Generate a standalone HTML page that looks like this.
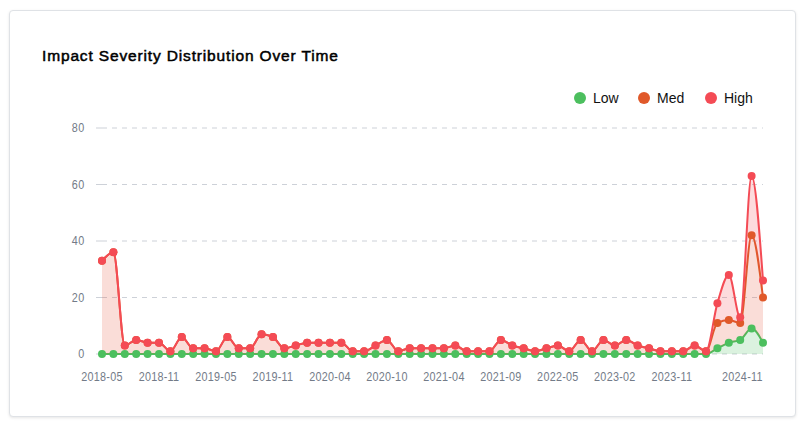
<!DOCTYPE html>
<html><head><meta charset="utf-8"><style>
html,body{margin:0;padding:0;background:#fff;width:809px;height:427px;overflow:hidden;}
body{position:relative;font-family:"Liberation Sans",sans-serif;}
.card{position:absolute;left:9px;top:10px;width:785px;height:405px;border:1px solid #dfe2e6;border-radius:4px;box-shadow:0 1px 3px rgba(0,0,0,0.10);background:#fff;}
.title{position:absolute;left:42px;top:47px;font-size:15.5px;letter-spacing:0.85px;font-weight:normal;-webkit-text-stroke:0.5px #000;color:#000;white-space:nowrap;}
.legend{position:absolute;top:89px;left:0;height:18px;font-size:14px;color:#111;white-space:nowrap;}
.legend span{position:absolute;top:0;line-height:18px;}
.dot{position:absolute;width:12px;height:12px;border-radius:50%;top:3px;}
svg{position:absolute;left:0;top:0;}
.yl{font-size:12px;letter-spacing:0.6px;fill:#737b88;text-anchor:end;}
.xl{font-size:12px;letter-spacing:0.3px;fill:#737b88;text-anchor:middle;}
</style></head><body>
<div class="card"></div>
<div class="title">Impact Severity Distribution Over Time</div>
<div class="legend">
<div class="dot" style="left:574px;background:#4cbf5e"></div><span style="left:593px">Low</span>
<div class="dot" style="left:638px;background:#e0592a"></div><span style="left:657px">Med</span>
<div class="dot" style="left:705px;background:#f44b55"></div><span style="left:724px">High</span>
</div>
<svg width="809" height="427" viewBox="0 0 809 427">
<line x1="96" y1="354" x2="102" y2="354" stroke="#cdd1d8" stroke-width="1"/>
<line x1="102" y1="354" x2="763" y2="354" stroke="#cdd1d8" stroke-width="1" stroke-dasharray="5 5"/>
<line x1="96" y1="297.5" x2="102" y2="297.5" stroke="#cdd1d8" stroke-width="1"/>
<line x1="102" y1="297.5" x2="763" y2="297.5" stroke="#cdd1d8" stroke-width="1" stroke-dasharray="5 5"/>
<line x1="96" y1="241" x2="102" y2="241" stroke="#cdd1d8" stroke-width="1"/>
<line x1="102" y1="241" x2="763" y2="241" stroke="#cdd1d8" stroke-width="1" stroke-dasharray="5 5"/>
<line x1="96" y1="184.5" x2="102" y2="184.5" stroke="#cdd1d8" stroke-width="1"/>
<line x1="102" y1="184.5" x2="763" y2="184.5" stroke="#cdd1d8" stroke-width="1" stroke-dasharray="5 5"/>
<line x1="96" y1="128" x2="102" y2="128" stroke="#cdd1d8" stroke-width="1"/>
<line x1="102" y1="128" x2="763" y2="128" stroke="#cdd1d8" stroke-width="1" stroke-dasharray="5 5"/>
<text transform="translate(84.8,358.2) scale(0.9,1)" class="yl">0</text>
<text transform="translate(84.8,301.7) scale(0.9,1)" class="yl">20</text>
<text transform="translate(84.8,245.2) scale(0.9,1)" class="yl">40</text>
<text transform="translate(84.8,188.7) scale(0.9,1)" class="yl">60</text>
<text transform="translate(84.8,132.2) scale(0.9,1)" class="yl">80</text>
<text transform="translate(102,381) scale(0.9,1)" class="xl">2018-05</text>
<text transform="translate(158.98,381) scale(0.9,1)" class="xl">2018-11</text>
<text transform="translate(215.97,381) scale(0.9,1)" class="xl">2019-05</text>
<text transform="translate(272.95,381) scale(0.9,1)" class="xl">2019-11</text>
<text transform="translate(329.93,381) scale(0.9,1)" class="xl">2020-04</text>
<text transform="translate(386.91,381) scale(0.9,1)" class="xl">2020-10</text>
<text transform="translate(443.9,381) scale(0.9,1)" class="xl">2021-04</text>
<text transform="translate(500.88,381) scale(0.9,1)" class="xl">2021-09</text>
<text transform="translate(557.86,381) scale(0.9,1)" class="xl">2022-05</text>
<text transform="translate(614.84,381) scale(0.9,1)" class="xl">2023-02</text>
<text transform="translate(671.83,381) scale(0.9,1)" class="xl">2023-11</text>
<text transform="translate(742.4,381) scale(0.9,1)" class="xl">2024-11</text>
<path d="M102,354C105.8,354 109.6,354 113.4,354C117.2,354 120.99,354 124.79,354C128.59,354 132.39,354 136.19,354C139.99,354 143.79,354 147.59,354C151.39,354 155.18,354 158.98,354C162.78,354 166.58,354 170.38,354C174.18,354 177.98,354 181.78,354C185.57,354 189.37,354 193.17,354C196.97,354 200.77,354 204.57,354C208.37,354 212.17,354 215.97,354C219.76,354 223.56,354 227.36,354C231.16,354 234.96,354 238.76,354C242.56,354 246.36,354 250.16,354C253.95,354 257.75,354 261.55,354C265.35,354 269.15,354 272.95,354C276.75,354 280.55,354 284.34,354C288.14,354 291.94,354 295.74,354C299.54,354 303.34,354 307.14,354C310.94,354 314.74,354 318.53,354C322.33,354 326.13,354 329.93,354C333.73,354 337.53,354 341.33,354C345.13,354 348.93,354 352.72,354C356.52,354 360.32,354 364.12,354C367.92,354 371.72,354 375.52,354C379.32,354 383.11,354 386.91,354C390.71,354 394.51,354 398.31,354C402.11,354 405.91,354 409.71,354C413.51,354 417.3,354 421.1,354C424.9,354 428.7,354 432.5,354C436.3,354 440.1,354 443.9,354C447.7,354 451.49,354 455.29,354C459.09,354 462.89,354 466.69,354C470.49,354 474.29,354 478.09,354C481.89,354 485.68,354 489.48,354C493.28,354 497.08,354 500.88,354C504.68,354 508.48,354 512.28,354C516.07,354 519.87,354 523.67,354C527.47,354 531.27,354 535.07,354C538.87,354 542.67,354 546.47,354C550.26,354 554.06,354 557.86,354C561.66,354 565.46,354 569.26,354C573.06,354 576.86,354 580.66,354C584.45,354 588.25,354 592.05,354C595.85,354 599.65,354 603.45,354C607.25,354 611.05,354 614.84,354C618.64,354 622.44,354 626.24,354C630.04,354 633.84,354 637.64,354C641.44,354 645.24,354 649.03,354C652.83,354 656.63,354 660.43,354C664.23,354 668.03,354 671.83,354C675.63,354 679.43,354 683.22,354C687.02,354 690.82,354 694.62,354C698.42,354 702.22,354 706.02,354C709.82,354 713.61,350.23 717.41,348.35C721.21,346.47 725.01,344.11 728.81,342.7C732.61,341.29 736.41,341.76 740.21,339.88C744.01,337.99 747.8,328.57 751.6,328.57C755.4,328.57 759.2,335.64 763,342.7L763,354C759.2,354 755.4,354 751.6,354C747.8,354 744.01,354 740.21,354C736.41,354 732.61,354 728.81,354C725.01,354 721.21,354 717.41,354C713.61,354 709.82,354 706.02,354C702.22,354 698.42,354 694.62,354C690.82,354 687.02,354 683.22,354C679.43,354 675.63,354 671.83,354C668.03,354 664.23,354 660.43,354C656.63,354 652.83,354 649.03,354C645.24,354 641.44,354 637.64,354C633.84,354 630.04,354 626.24,354C622.44,354 618.64,354 614.84,354C611.05,354 607.25,354 603.45,354C599.65,354 595.85,354 592.05,354C588.25,354 584.45,354 580.66,354C576.86,354 573.06,354 569.26,354C565.46,354 561.66,354 557.86,354C554.06,354 550.26,354 546.47,354C542.67,354 538.87,354 535.07,354C531.27,354 527.47,354 523.67,354C519.87,354 516.07,354 512.28,354C508.48,354 504.68,354 500.88,354C497.08,354 493.28,354 489.48,354C485.68,354 481.89,354 478.09,354C474.29,354 470.49,354 466.69,354C462.89,354 459.09,354 455.29,354C451.49,354 447.7,354 443.9,354C440.1,354 436.3,354 432.5,354C428.7,354 424.9,354 421.1,354C417.3,354 413.51,354 409.71,354C405.91,354 402.11,354 398.31,354C394.51,354 390.71,354 386.91,354C383.11,354 379.32,354 375.52,354C371.72,354 367.92,354 364.12,354C360.32,354 356.52,354 352.72,354C348.93,354 345.13,354 341.33,354C337.53,354 333.73,354 329.93,354C326.13,354 322.33,354 318.53,354C314.74,354 310.94,354 307.14,354C303.34,354 299.54,354 295.74,354C291.94,354 288.14,354 284.34,354C280.55,354 276.75,354 272.95,354C269.15,354 265.35,354 261.55,354C257.75,354 253.95,354 250.16,354C246.36,354 242.56,354 238.76,354C234.96,354 231.16,354 227.36,354C223.56,354 219.76,354 215.97,354C212.17,354 208.37,354 204.57,354C200.77,354 196.97,354 193.17,354C189.37,354 185.57,354 181.78,354C177.98,354 174.18,354 170.38,354C166.58,354 162.78,354 158.98,354C155.18,354 151.39,354 147.59,354C143.79,354 139.99,354 136.19,354C132.39,354 128.59,354 124.79,354C120.99,354 117.2,354 113.4,354C109.6,354 105.8,354 102,354Z" fill="#4cbf5e" fill-opacity="0.2" stroke="none"/>
<path d="M102,354C105.8,354 109.6,354 113.4,354C117.2,354 120.99,354 124.79,354C128.59,354 132.39,354 136.19,354C139.99,354 143.79,354 147.59,354C151.39,354 155.18,354 158.98,354C162.78,354 166.58,354 170.38,354C174.18,354 177.98,354 181.78,354C185.57,354 189.37,354 193.17,354C196.97,354 200.77,354 204.57,354C208.37,354 212.17,354 215.97,354C219.76,354 223.56,354 227.36,354C231.16,354 234.96,354 238.76,354C242.56,354 246.36,354 250.16,354C253.95,354 257.75,354 261.55,354C265.35,354 269.15,354 272.95,354C276.75,354 280.55,354 284.34,354C288.14,354 291.94,354 295.74,354C299.54,354 303.34,354 307.14,354C310.94,354 314.74,354 318.53,354C322.33,354 326.13,354 329.93,354C333.73,354 337.53,354 341.33,354C345.13,354 348.93,354 352.72,354C356.52,354 360.32,354 364.12,354C367.92,354 371.72,354 375.52,354C379.32,354 383.11,354 386.91,354C390.71,354 394.51,354 398.31,354C402.11,354 405.91,354 409.71,354C413.51,354 417.3,354 421.1,354C424.9,354 428.7,354 432.5,354C436.3,354 440.1,354 443.9,354C447.7,354 451.49,354 455.29,354C459.09,354 462.89,354 466.69,354C470.49,354 474.29,354 478.09,354C481.89,354 485.68,354 489.48,354C493.28,354 497.08,354 500.88,354C504.68,354 508.48,354 512.28,354C516.07,354 519.87,354 523.67,354C527.47,354 531.27,354 535.07,354C538.87,354 542.67,354 546.47,354C550.26,354 554.06,354 557.86,354C561.66,354 565.46,354 569.26,354C573.06,354 576.86,354 580.66,354C584.45,354 588.25,354 592.05,354C595.85,354 599.65,354 603.45,354C607.25,354 611.05,354 614.84,354C618.64,354 622.44,354 626.24,354C630.04,354 633.84,354 637.64,354C641.44,354 645.24,354 649.03,354C652.83,354 656.63,354 660.43,354C664.23,354 668.03,354 671.83,354C675.63,354 679.43,354 683.22,354C687.02,354 690.82,354 694.62,354C698.42,354 702.22,354 706.02,354C709.82,354 713.61,350.23 717.41,348.35C721.21,346.47 725.01,344.11 728.81,342.7C732.61,341.29 736.41,341.76 740.21,339.88C744.01,337.99 747.8,328.57 751.6,328.57C755.4,328.57 759.2,335.64 763,342.7" fill="none" stroke="#4cbf5e" stroke-width="2"/>
<path d="M102,260.77C105.8,256.54 109.6,252.3 113.4,252.3C117.2,252.3 120.99,345.52 124.79,345.52C128.59,345.52 132.39,339.88 136.19,339.88C139.99,339.88 143.79,342.7 147.59,342.7C151.39,342.7 155.18,342.7 158.98,342.7C162.78,342.7 166.58,351.18 170.38,351.18C174.18,351.18 177.98,337.05 181.78,337.05C185.57,337.05 189.37,348.35 193.17,348.35C196.97,348.35 200.77,348.35 204.57,348.35C208.37,348.35 212.17,351.18 215.97,351.18C219.76,351.18 223.56,337.05 227.36,337.05C231.16,337.05 234.96,348.35 238.76,348.35C242.56,348.35 246.36,348.35 250.16,348.35C253.95,348.35 257.75,334.23 261.55,334.23C265.35,334.23 269.15,335.17 272.95,337.05C276.75,338.93 280.55,348.35 284.34,348.35C288.14,348.35 291.94,346.47 295.74,345.52C299.54,344.58 303.34,342.7 307.14,342.7C310.94,342.7 314.74,342.7 318.53,342.7C322.33,342.7 326.13,342.7 329.93,342.7C333.73,342.7 337.53,342.7 341.33,342.7C345.13,342.7 348.93,351.18 352.72,351.18C356.52,351.18 360.32,351.18 364.12,351.18C367.92,351.18 371.72,347.41 375.52,345.52C379.32,343.64 383.11,339.88 386.91,339.88C390.71,339.88 394.51,351.18 398.31,351.18C402.11,351.18 405.91,348.35 409.71,348.35C413.51,348.35 417.3,348.35 421.1,348.35C424.9,348.35 428.7,348.35 432.5,348.35C436.3,348.35 440.1,348.35 443.9,348.35C447.7,348.35 451.49,345.52 455.29,345.52C459.09,345.52 462.89,351.18 466.69,351.18C470.49,351.18 474.29,351.18 478.09,351.18C481.89,351.18 485.68,351.18 489.48,351.18C493.28,351.18 497.08,339.88 500.88,339.88C504.68,339.88 508.48,344.11 512.28,345.52C516.07,346.94 519.87,347.41 523.67,348.35C527.47,349.29 531.27,351.18 535.07,351.18C538.87,351.18 542.67,349.29 546.47,348.35C550.26,347.41 554.06,345.52 557.86,345.52C561.66,345.52 565.46,351.18 569.26,351.18C573.06,351.18 576.86,339.88 580.66,339.88C584.45,339.88 588.25,351.18 592.05,351.18C595.85,351.18 599.65,339.88 603.45,339.88C607.25,339.88 611.05,345.52 614.84,345.52C618.64,345.52 622.44,339.88 626.24,339.88C630.04,339.88 633.84,344.11 637.64,345.52C641.44,346.94 645.24,347.41 649.03,348.35C652.83,349.29 656.63,351.18 660.43,351.18C664.23,351.18 668.03,351.18 671.83,351.18C675.63,351.18 679.43,351.18 683.22,351.18C687.02,351.18 690.82,345.52 694.62,345.52C698.42,345.52 702.22,351.18 706.02,351.18C709.82,351.18 713.61,324.81 717.41,322.93C721.21,321.04 725.01,320.1 728.81,320.1C732.61,320.1 736.41,322.93 740.21,322.93C744.01,322.93 747.8,235.35 751.6,235.35C755.4,235.35 759.2,266.43 763,297.5L763,342.7C759.2,335.64 755.4,328.57 751.6,328.57C747.8,328.57 744.01,337.99 740.21,339.88C736.41,341.76 732.61,341.29 728.81,342.7C725.01,344.11 721.21,346.47 717.41,348.35C713.61,350.23 709.82,354 706.02,354C702.22,354 698.42,354 694.62,354C690.82,354 687.02,354 683.22,354C679.43,354 675.63,354 671.83,354C668.03,354 664.23,354 660.43,354C656.63,354 652.83,354 649.03,354C645.24,354 641.44,354 637.64,354C633.84,354 630.04,354 626.24,354C622.44,354 618.64,354 614.84,354C611.05,354 607.25,354 603.45,354C599.65,354 595.85,354 592.05,354C588.25,354 584.45,354 580.66,354C576.86,354 573.06,354 569.26,354C565.46,354 561.66,354 557.86,354C554.06,354 550.26,354 546.47,354C542.67,354 538.87,354 535.07,354C531.27,354 527.47,354 523.67,354C519.87,354 516.07,354 512.28,354C508.48,354 504.68,354 500.88,354C497.08,354 493.28,354 489.48,354C485.68,354 481.89,354 478.09,354C474.29,354 470.49,354 466.69,354C462.89,354 459.09,354 455.29,354C451.49,354 447.7,354 443.9,354C440.1,354 436.3,354 432.5,354C428.7,354 424.9,354 421.1,354C417.3,354 413.51,354 409.71,354C405.91,354 402.11,354 398.31,354C394.51,354 390.71,354 386.91,354C383.11,354 379.32,354 375.52,354C371.72,354 367.92,354 364.12,354C360.32,354 356.52,354 352.72,354C348.93,354 345.13,354 341.33,354C337.53,354 333.73,354 329.93,354C326.13,354 322.33,354 318.53,354C314.74,354 310.94,354 307.14,354C303.34,354 299.54,354 295.74,354C291.94,354 288.14,354 284.34,354C280.55,354 276.75,354 272.95,354C269.15,354 265.35,354 261.55,354C257.75,354 253.95,354 250.16,354C246.36,354 242.56,354 238.76,354C234.96,354 231.16,354 227.36,354C223.56,354 219.76,354 215.97,354C212.17,354 208.37,354 204.57,354C200.77,354 196.97,354 193.17,354C189.37,354 185.57,354 181.78,354C177.98,354 174.18,354 170.38,354C166.58,354 162.78,354 158.98,354C155.18,354 151.39,354 147.59,354C143.79,354 139.99,354 136.19,354C132.39,354 128.59,354 124.79,354C120.99,354 117.2,354 113.4,354C109.6,354 105.8,354 102,354Z" fill="#e6553c" fill-opacity="0.2" stroke="none"/>
<path d="M102,260.77C105.8,256.54 109.6,252.3 113.4,252.3C117.2,252.3 120.99,345.52 124.79,345.52C128.59,345.52 132.39,339.88 136.19,339.88C139.99,339.88 143.79,342.7 147.59,342.7C151.39,342.7 155.18,342.7 158.98,342.7C162.78,342.7 166.58,351.18 170.38,351.18C174.18,351.18 177.98,337.05 181.78,337.05C185.57,337.05 189.37,348.35 193.17,348.35C196.97,348.35 200.77,348.35 204.57,348.35C208.37,348.35 212.17,351.18 215.97,351.18C219.76,351.18 223.56,337.05 227.36,337.05C231.16,337.05 234.96,348.35 238.76,348.35C242.56,348.35 246.36,348.35 250.16,348.35C253.95,348.35 257.75,334.23 261.55,334.23C265.35,334.23 269.15,335.17 272.95,337.05C276.75,338.93 280.55,348.35 284.34,348.35C288.14,348.35 291.94,346.47 295.74,345.52C299.54,344.58 303.34,342.7 307.14,342.7C310.94,342.7 314.74,342.7 318.53,342.7C322.33,342.7 326.13,342.7 329.93,342.7C333.73,342.7 337.53,342.7 341.33,342.7C345.13,342.7 348.93,351.18 352.72,351.18C356.52,351.18 360.32,351.18 364.12,351.18C367.92,351.18 371.72,347.41 375.52,345.52C379.32,343.64 383.11,339.88 386.91,339.88C390.71,339.88 394.51,351.18 398.31,351.18C402.11,351.18 405.91,348.35 409.71,348.35C413.51,348.35 417.3,348.35 421.1,348.35C424.9,348.35 428.7,348.35 432.5,348.35C436.3,348.35 440.1,348.35 443.9,348.35C447.7,348.35 451.49,345.52 455.29,345.52C459.09,345.52 462.89,351.18 466.69,351.18C470.49,351.18 474.29,351.18 478.09,351.18C481.89,351.18 485.68,351.18 489.48,351.18C493.28,351.18 497.08,339.88 500.88,339.88C504.68,339.88 508.48,344.11 512.28,345.52C516.07,346.94 519.87,347.41 523.67,348.35C527.47,349.29 531.27,351.18 535.07,351.18C538.87,351.18 542.67,349.29 546.47,348.35C550.26,347.41 554.06,345.52 557.86,345.52C561.66,345.52 565.46,351.18 569.26,351.18C573.06,351.18 576.86,339.88 580.66,339.88C584.45,339.88 588.25,351.18 592.05,351.18C595.85,351.18 599.65,339.88 603.45,339.88C607.25,339.88 611.05,345.52 614.84,345.52C618.64,345.52 622.44,339.88 626.24,339.88C630.04,339.88 633.84,344.11 637.64,345.52C641.44,346.94 645.24,347.41 649.03,348.35C652.83,349.29 656.63,351.18 660.43,351.18C664.23,351.18 668.03,351.18 671.83,351.18C675.63,351.18 679.43,351.18 683.22,351.18C687.02,351.18 690.82,345.52 694.62,345.52C698.42,345.52 702.22,351.18 706.02,351.18C709.82,351.18 713.61,324.81 717.41,322.93C721.21,321.04 725.01,320.1 728.81,320.1C732.61,320.1 736.41,322.93 740.21,322.93C744.01,322.93 747.8,235.35 751.6,235.35C755.4,235.35 759.2,266.43 763,297.5" fill="none" stroke="#e0592a" stroke-width="2"/>
<path d="M102,260.77C105.8,256.54 109.6,252.3 113.4,252.3C117.2,252.3 120.99,345.52 124.79,345.52C128.59,345.52 132.39,339.88 136.19,339.88C139.99,339.88 143.79,342.7 147.59,342.7C151.39,342.7 155.18,342.7 158.98,342.7C162.78,342.7 166.58,351.18 170.38,351.18C174.18,351.18 177.98,337.05 181.78,337.05C185.57,337.05 189.37,348.35 193.17,348.35C196.97,348.35 200.77,348.35 204.57,348.35C208.37,348.35 212.17,351.18 215.97,351.18C219.76,351.18 223.56,337.05 227.36,337.05C231.16,337.05 234.96,348.35 238.76,348.35C242.56,348.35 246.36,348.35 250.16,348.35C253.95,348.35 257.75,334.23 261.55,334.23C265.35,334.23 269.15,335.17 272.95,337.05C276.75,338.93 280.55,348.35 284.34,348.35C288.14,348.35 291.94,346.47 295.74,345.52C299.54,344.58 303.34,342.7 307.14,342.7C310.94,342.7 314.74,342.7 318.53,342.7C322.33,342.7 326.13,342.7 329.93,342.7C333.73,342.7 337.53,342.7 341.33,342.7C345.13,342.7 348.93,351.18 352.72,351.18C356.52,351.18 360.32,351.18 364.12,351.18C367.92,351.18 371.72,347.41 375.52,345.52C379.32,343.64 383.11,339.88 386.91,339.88C390.71,339.88 394.51,351.18 398.31,351.18C402.11,351.18 405.91,348.35 409.71,348.35C413.51,348.35 417.3,348.35 421.1,348.35C424.9,348.35 428.7,348.35 432.5,348.35C436.3,348.35 440.1,348.35 443.9,348.35C447.7,348.35 451.49,345.52 455.29,345.52C459.09,345.52 462.89,351.18 466.69,351.18C470.49,351.18 474.29,351.18 478.09,351.18C481.89,351.18 485.68,351.18 489.48,351.18C493.28,351.18 497.08,339.88 500.88,339.88C504.68,339.88 508.48,344.11 512.28,345.52C516.07,346.94 519.87,347.41 523.67,348.35C527.47,349.29 531.27,351.18 535.07,351.18C538.87,351.18 542.67,349.29 546.47,348.35C550.26,347.41 554.06,345.52 557.86,345.52C561.66,345.52 565.46,351.18 569.26,351.18C573.06,351.18 576.86,339.88 580.66,339.88C584.45,339.88 588.25,351.18 592.05,351.18C595.85,351.18 599.65,339.88 603.45,339.88C607.25,339.88 611.05,345.52 614.84,345.52C618.64,345.52 622.44,339.88 626.24,339.88C630.04,339.88 633.84,344.11 637.64,345.52C641.44,346.94 645.24,347.41 649.03,348.35C652.83,349.29 656.63,351.18 660.43,351.18C664.23,351.18 668.03,351.18 671.83,351.18C675.63,351.18 679.43,351.18 683.22,351.18C687.02,351.18 690.82,345.52 694.62,345.52C698.42,345.52 702.22,351.18 706.02,351.18C709.82,351.18 713.61,315.86 717.41,303.15C721.21,290.44 725.01,274.9 728.81,274.9C732.61,274.9 736.41,317.27 740.21,317.27C744.01,317.27 747.8,176.03 751.6,176.03C755.4,176.03 759.2,228.29 763,280.55L763,297.5C759.2,266.43 755.4,235.35 751.6,235.35C747.8,235.35 744.01,322.93 740.21,322.93C736.41,322.93 732.61,320.1 728.81,320.1C725.01,320.1 721.21,321.04 717.41,322.93C713.61,324.81 709.82,351.18 706.02,351.18C702.22,351.18 698.42,345.52 694.62,345.52C690.82,345.52 687.02,351.18 683.22,351.18C679.43,351.18 675.63,351.18 671.83,351.18C668.03,351.18 664.23,351.18 660.43,351.18C656.63,351.18 652.83,349.29 649.03,348.35C645.24,347.41 641.44,346.94 637.64,345.52C633.84,344.11 630.04,339.88 626.24,339.88C622.44,339.88 618.64,345.52 614.84,345.52C611.05,345.52 607.25,339.88 603.45,339.88C599.65,339.88 595.85,351.18 592.05,351.18C588.25,351.18 584.45,339.88 580.66,339.88C576.86,339.88 573.06,351.18 569.26,351.18C565.46,351.18 561.66,345.52 557.86,345.52C554.06,345.52 550.26,347.41 546.47,348.35C542.67,349.29 538.87,351.18 535.07,351.18C531.27,351.18 527.47,349.29 523.67,348.35C519.87,347.41 516.07,346.94 512.28,345.52C508.48,344.11 504.68,339.88 500.88,339.88C497.08,339.88 493.28,351.18 489.48,351.18C485.68,351.18 481.89,351.18 478.09,351.18C474.29,351.18 470.49,351.18 466.69,351.18C462.89,351.18 459.09,345.52 455.29,345.52C451.49,345.52 447.7,348.35 443.9,348.35C440.1,348.35 436.3,348.35 432.5,348.35C428.7,348.35 424.9,348.35 421.1,348.35C417.3,348.35 413.51,348.35 409.71,348.35C405.91,348.35 402.11,351.18 398.31,351.18C394.51,351.18 390.71,339.88 386.91,339.88C383.11,339.88 379.32,343.64 375.52,345.52C371.72,347.41 367.92,351.18 364.12,351.18C360.32,351.18 356.52,351.18 352.72,351.18C348.93,351.18 345.13,342.7 341.33,342.7C337.53,342.7 333.73,342.7 329.93,342.7C326.13,342.7 322.33,342.7 318.53,342.7C314.74,342.7 310.94,342.7 307.14,342.7C303.34,342.7 299.54,344.58 295.74,345.52C291.94,346.47 288.14,348.35 284.34,348.35C280.55,348.35 276.75,338.93 272.95,337.05C269.15,335.17 265.35,334.23 261.55,334.23C257.75,334.23 253.95,348.35 250.16,348.35C246.36,348.35 242.56,348.35 238.76,348.35C234.96,348.35 231.16,337.05 227.36,337.05C223.56,337.05 219.76,351.18 215.97,351.18C212.17,351.18 208.37,348.35 204.57,348.35C200.77,348.35 196.97,348.35 193.17,348.35C189.37,348.35 185.57,337.05 181.78,337.05C177.98,337.05 174.18,351.18 170.38,351.18C166.58,351.18 162.78,342.7 158.98,342.7C155.18,342.7 151.39,342.7 147.59,342.7C143.79,342.7 139.99,339.88 136.19,339.88C132.39,339.88 128.59,345.52 124.79,345.52C120.99,345.52 117.2,252.3 113.4,252.3C109.6,252.3 105.8,256.54 102,260.77Z" fill="#f44b55" fill-opacity="0.2" stroke="none"/>
<path d="M102,260.77C105.8,256.54 109.6,252.3 113.4,252.3C117.2,252.3 120.99,345.52 124.79,345.52C128.59,345.52 132.39,339.88 136.19,339.88C139.99,339.88 143.79,342.7 147.59,342.7C151.39,342.7 155.18,342.7 158.98,342.7C162.78,342.7 166.58,351.18 170.38,351.18C174.18,351.18 177.98,337.05 181.78,337.05C185.57,337.05 189.37,348.35 193.17,348.35C196.97,348.35 200.77,348.35 204.57,348.35C208.37,348.35 212.17,351.18 215.97,351.18C219.76,351.18 223.56,337.05 227.36,337.05C231.16,337.05 234.96,348.35 238.76,348.35C242.56,348.35 246.36,348.35 250.16,348.35C253.95,348.35 257.75,334.23 261.55,334.23C265.35,334.23 269.15,335.17 272.95,337.05C276.75,338.93 280.55,348.35 284.34,348.35C288.14,348.35 291.94,346.47 295.74,345.52C299.54,344.58 303.34,342.7 307.14,342.7C310.94,342.7 314.74,342.7 318.53,342.7C322.33,342.7 326.13,342.7 329.93,342.7C333.73,342.7 337.53,342.7 341.33,342.7C345.13,342.7 348.93,351.18 352.72,351.18C356.52,351.18 360.32,351.18 364.12,351.18C367.92,351.18 371.72,347.41 375.52,345.52C379.32,343.64 383.11,339.88 386.91,339.88C390.71,339.88 394.51,351.18 398.31,351.18C402.11,351.18 405.91,348.35 409.71,348.35C413.51,348.35 417.3,348.35 421.1,348.35C424.9,348.35 428.7,348.35 432.5,348.35C436.3,348.35 440.1,348.35 443.9,348.35C447.7,348.35 451.49,345.52 455.29,345.52C459.09,345.52 462.89,351.18 466.69,351.18C470.49,351.18 474.29,351.18 478.09,351.18C481.89,351.18 485.68,351.18 489.48,351.18C493.28,351.18 497.08,339.88 500.88,339.88C504.68,339.88 508.48,344.11 512.28,345.52C516.07,346.94 519.87,347.41 523.67,348.35C527.47,349.29 531.27,351.18 535.07,351.18C538.87,351.18 542.67,349.29 546.47,348.35C550.26,347.41 554.06,345.52 557.86,345.52C561.66,345.52 565.46,351.18 569.26,351.18C573.06,351.18 576.86,339.88 580.66,339.88C584.45,339.88 588.25,351.18 592.05,351.18C595.85,351.18 599.65,339.88 603.45,339.88C607.25,339.88 611.05,345.52 614.84,345.52C618.64,345.52 622.44,339.88 626.24,339.88C630.04,339.88 633.84,344.11 637.64,345.52C641.44,346.94 645.24,347.41 649.03,348.35C652.83,349.29 656.63,351.18 660.43,351.18C664.23,351.18 668.03,351.18 671.83,351.18C675.63,351.18 679.43,351.18 683.22,351.18C687.02,351.18 690.82,345.52 694.62,345.52C698.42,345.52 702.22,351.18 706.02,351.18C709.82,351.18 713.61,315.86 717.41,303.15C721.21,290.44 725.01,274.9 728.81,274.9C732.61,274.9 736.41,317.27 740.21,317.27C744.01,317.27 747.8,176.03 751.6,176.03C755.4,176.03 759.2,228.29 763,280.55" fill="none" stroke="#f44b55" stroke-width="2"/>
<circle cx="102" cy="354" r="4" fill="#4cbf5e"/>
<circle cx="113.4" cy="354" r="4" fill="#4cbf5e"/>
<circle cx="124.79" cy="354" r="4" fill="#4cbf5e"/>
<circle cx="136.19" cy="354" r="4" fill="#4cbf5e"/>
<circle cx="147.59" cy="354" r="4" fill="#4cbf5e"/>
<circle cx="158.98" cy="354" r="4" fill="#4cbf5e"/>
<circle cx="170.38" cy="354" r="4" fill="#4cbf5e"/>
<circle cx="181.78" cy="354" r="4" fill="#4cbf5e"/>
<circle cx="193.17" cy="354" r="4" fill="#4cbf5e"/>
<circle cx="204.57" cy="354" r="4" fill="#4cbf5e"/>
<circle cx="215.97" cy="354" r="4" fill="#4cbf5e"/>
<circle cx="227.36" cy="354" r="4" fill="#4cbf5e"/>
<circle cx="238.76" cy="354" r="4" fill="#4cbf5e"/>
<circle cx="250.16" cy="354" r="4" fill="#4cbf5e"/>
<circle cx="261.55" cy="354" r="4" fill="#4cbf5e"/>
<circle cx="272.95" cy="354" r="4" fill="#4cbf5e"/>
<circle cx="284.34" cy="354" r="4" fill="#4cbf5e"/>
<circle cx="295.74" cy="354" r="4" fill="#4cbf5e"/>
<circle cx="307.14" cy="354" r="4" fill="#4cbf5e"/>
<circle cx="318.53" cy="354" r="4" fill="#4cbf5e"/>
<circle cx="329.93" cy="354" r="4" fill="#4cbf5e"/>
<circle cx="341.33" cy="354" r="4" fill="#4cbf5e"/>
<circle cx="352.72" cy="354" r="4" fill="#4cbf5e"/>
<circle cx="364.12" cy="354" r="4" fill="#4cbf5e"/>
<circle cx="375.52" cy="354" r="4" fill="#4cbf5e"/>
<circle cx="386.91" cy="354" r="4" fill="#4cbf5e"/>
<circle cx="398.31" cy="354" r="4" fill="#4cbf5e"/>
<circle cx="409.71" cy="354" r="4" fill="#4cbf5e"/>
<circle cx="421.1" cy="354" r="4" fill="#4cbf5e"/>
<circle cx="432.5" cy="354" r="4" fill="#4cbf5e"/>
<circle cx="443.9" cy="354" r="4" fill="#4cbf5e"/>
<circle cx="455.29" cy="354" r="4" fill="#4cbf5e"/>
<circle cx="466.69" cy="354" r="4" fill="#4cbf5e"/>
<circle cx="478.09" cy="354" r="4" fill="#4cbf5e"/>
<circle cx="489.48" cy="354" r="4" fill="#4cbf5e"/>
<circle cx="500.88" cy="354" r="4" fill="#4cbf5e"/>
<circle cx="512.28" cy="354" r="4" fill="#4cbf5e"/>
<circle cx="523.67" cy="354" r="4" fill="#4cbf5e"/>
<circle cx="535.07" cy="354" r="4" fill="#4cbf5e"/>
<circle cx="546.47" cy="354" r="4" fill="#4cbf5e"/>
<circle cx="557.86" cy="354" r="4" fill="#4cbf5e"/>
<circle cx="569.26" cy="354" r="4" fill="#4cbf5e"/>
<circle cx="580.66" cy="354" r="4" fill="#4cbf5e"/>
<circle cx="592.05" cy="354" r="4" fill="#4cbf5e"/>
<circle cx="603.45" cy="354" r="4" fill="#4cbf5e"/>
<circle cx="614.84" cy="354" r="4" fill="#4cbf5e"/>
<circle cx="626.24" cy="354" r="4" fill="#4cbf5e"/>
<circle cx="637.64" cy="354" r="4" fill="#4cbf5e"/>
<circle cx="649.03" cy="354" r="4" fill="#4cbf5e"/>
<circle cx="660.43" cy="354" r="4" fill="#4cbf5e"/>
<circle cx="671.83" cy="354" r="4" fill="#4cbf5e"/>
<circle cx="683.22" cy="354" r="4" fill="#4cbf5e"/>
<circle cx="694.62" cy="354" r="4" fill="#4cbf5e"/>
<circle cx="706.02" cy="354" r="4" fill="#4cbf5e"/>
<circle cx="717.41" cy="348.35" r="4" fill="#4cbf5e"/>
<circle cx="728.81" cy="342.7" r="4" fill="#4cbf5e"/>
<circle cx="740.21" cy="339.88" r="4" fill="#4cbf5e"/>
<circle cx="751.6" cy="328.57" r="4" fill="#4cbf5e"/>
<circle cx="763" cy="342.7" r="4" fill="#4cbf5e"/>
<circle cx="102" cy="260.77" r="4" fill="#e0592a"/>
<circle cx="113.4" cy="252.3" r="4" fill="#e0592a"/>
<circle cx="124.79" cy="345.52" r="4" fill="#e0592a"/>
<circle cx="136.19" cy="339.88" r="4" fill="#e0592a"/>
<circle cx="147.59" cy="342.7" r="4" fill="#e0592a"/>
<circle cx="158.98" cy="342.7" r="4" fill="#e0592a"/>
<circle cx="170.38" cy="351.18" r="4" fill="#e0592a"/>
<circle cx="181.78" cy="337.05" r="4" fill="#e0592a"/>
<circle cx="193.17" cy="348.35" r="4" fill="#e0592a"/>
<circle cx="204.57" cy="348.35" r="4" fill="#e0592a"/>
<circle cx="215.97" cy="351.18" r="4" fill="#e0592a"/>
<circle cx="227.36" cy="337.05" r="4" fill="#e0592a"/>
<circle cx="238.76" cy="348.35" r="4" fill="#e0592a"/>
<circle cx="250.16" cy="348.35" r="4" fill="#e0592a"/>
<circle cx="261.55" cy="334.23" r="4" fill="#e0592a"/>
<circle cx="272.95" cy="337.05" r="4" fill="#e0592a"/>
<circle cx="284.34" cy="348.35" r="4" fill="#e0592a"/>
<circle cx="295.74" cy="345.52" r="4" fill="#e0592a"/>
<circle cx="307.14" cy="342.7" r="4" fill="#e0592a"/>
<circle cx="318.53" cy="342.7" r="4" fill="#e0592a"/>
<circle cx="329.93" cy="342.7" r="4" fill="#e0592a"/>
<circle cx="341.33" cy="342.7" r="4" fill="#e0592a"/>
<circle cx="352.72" cy="351.18" r="4" fill="#e0592a"/>
<circle cx="364.12" cy="351.18" r="4" fill="#e0592a"/>
<circle cx="375.52" cy="345.52" r="4" fill="#e0592a"/>
<circle cx="386.91" cy="339.88" r="4" fill="#e0592a"/>
<circle cx="398.31" cy="351.18" r="4" fill="#e0592a"/>
<circle cx="409.71" cy="348.35" r="4" fill="#e0592a"/>
<circle cx="421.1" cy="348.35" r="4" fill="#e0592a"/>
<circle cx="432.5" cy="348.35" r="4" fill="#e0592a"/>
<circle cx="443.9" cy="348.35" r="4" fill="#e0592a"/>
<circle cx="455.29" cy="345.52" r="4" fill="#e0592a"/>
<circle cx="466.69" cy="351.18" r="4" fill="#e0592a"/>
<circle cx="478.09" cy="351.18" r="4" fill="#e0592a"/>
<circle cx="489.48" cy="351.18" r="4" fill="#e0592a"/>
<circle cx="500.88" cy="339.88" r="4" fill="#e0592a"/>
<circle cx="512.28" cy="345.52" r="4" fill="#e0592a"/>
<circle cx="523.67" cy="348.35" r="4" fill="#e0592a"/>
<circle cx="535.07" cy="351.18" r="4" fill="#e0592a"/>
<circle cx="546.47" cy="348.35" r="4" fill="#e0592a"/>
<circle cx="557.86" cy="345.52" r="4" fill="#e0592a"/>
<circle cx="569.26" cy="351.18" r="4" fill="#e0592a"/>
<circle cx="580.66" cy="339.88" r="4" fill="#e0592a"/>
<circle cx="592.05" cy="351.18" r="4" fill="#e0592a"/>
<circle cx="603.45" cy="339.88" r="4" fill="#e0592a"/>
<circle cx="614.84" cy="345.52" r="4" fill="#e0592a"/>
<circle cx="626.24" cy="339.88" r="4" fill="#e0592a"/>
<circle cx="637.64" cy="345.52" r="4" fill="#e0592a"/>
<circle cx="649.03" cy="348.35" r="4" fill="#e0592a"/>
<circle cx="660.43" cy="351.18" r="4" fill="#e0592a"/>
<circle cx="671.83" cy="351.18" r="4" fill="#e0592a"/>
<circle cx="683.22" cy="351.18" r="4" fill="#e0592a"/>
<circle cx="694.62" cy="345.52" r="4" fill="#e0592a"/>
<circle cx="706.02" cy="351.18" r="4" fill="#e0592a"/>
<circle cx="717.41" cy="322.93" r="4" fill="#e0592a"/>
<circle cx="728.81" cy="320.1" r="4" fill="#e0592a"/>
<circle cx="740.21" cy="322.93" r="4" fill="#e0592a"/>
<circle cx="751.6" cy="235.35" r="4" fill="#e0592a"/>
<circle cx="763" cy="297.5" r="4" fill="#e0592a"/>
<circle cx="102" cy="260.77" r="4" fill="#f44b55"/>
<circle cx="113.4" cy="252.3" r="4" fill="#f44b55"/>
<circle cx="124.79" cy="345.52" r="4" fill="#f44b55"/>
<circle cx="136.19" cy="339.88" r="4" fill="#f44b55"/>
<circle cx="147.59" cy="342.7" r="4" fill="#f44b55"/>
<circle cx="158.98" cy="342.7" r="4" fill="#f44b55"/>
<circle cx="170.38" cy="351.18" r="4" fill="#f44b55"/>
<circle cx="181.78" cy="337.05" r="4" fill="#f44b55"/>
<circle cx="193.17" cy="348.35" r="4" fill="#f44b55"/>
<circle cx="204.57" cy="348.35" r="4" fill="#f44b55"/>
<circle cx="215.97" cy="351.18" r="4" fill="#f44b55"/>
<circle cx="227.36" cy="337.05" r="4" fill="#f44b55"/>
<circle cx="238.76" cy="348.35" r="4" fill="#f44b55"/>
<circle cx="250.16" cy="348.35" r="4" fill="#f44b55"/>
<circle cx="261.55" cy="334.23" r="4" fill="#f44b55"/>
<circle cx="272.95" cy="337.05" r="4" fill="#f44b55"/>
<circle cx="284.34" cy="348.35" r="4" fill="#f44b55"/>
<circle cx="295.74" cy="345.52" r="4" fill="#f44b55"/>
<circle cx="307.14" cy="342.7" r="4" fill="#f44b55"/>
<circle cx="318.53" cy="342.7" r="4" fill="#f44b55"/>
<circle cx="329.93" cy="342.7" r="4" fill="#f44b55"/>
<circle cx="341.33" cy="342.7" r="4" fill="#f44b55"/>
<circle cx="352.72" cy="351.18" r="4" fill="#f44b55"/>
<circle cx="364.12" cy="351.18" r="4" fill="#f44b55"/>
<circle cx="375.52" cy="345.52" r="4" fill="#f44b55"/>
<circle cx="386.91" cy="339.88" r="4" fill="#f44b55"/>
<circle cx="398.31" cy="351.18" r="4" fill="#f44b55"/>
<circle cx="409.71" cy="348.35" r="4" fill="#f44b55"/>
<circle cx="421.1" cy="348.35" r="4" fill="#f44b55"/>
<circle cx="432.5" cy="348.35" r="4" fill="#f44b55"/>
<circle cx="443.9" cy="348.35" r="4" fill="#f44b55"/>
<circle cx="455.29" cy="345.52" r="4" fill="#f44b55"/>
<circle cx="466.69" cy="351.18" r="4" fill="#f44b55"/>
<circle cx="478.09" cy="351.18" r="4" fill="#f44b55"/>
<circle cx="489.48" cy="351.18" r="4" fill="#f44b55"/>
<circle cx="500.88" cy="339.88" r="4" fill="#f44b55"/>
<circle cx="512.28" cy="345.52" r="4" fill="#f44b55"/>
<circle cx="523.67" cy="348.35" r="4" fill="#f44b55"/>
<circle cx="535.07" cy="351.18" r="4" fill="#f44b55"/>
<circle cx="546.47" cy="348.35" r="4" fill="#f44b55"/>
<circle cx="557.86" cy="345.52" r="4" fill="#f44b55"/>
<circle cx="569.26" cy="351.18" r="4" fill="#f44b55"/>
<circle cx="580.66" cy="339.88" r="4" fill="#f44b55"/>
<circle cx="592.05" cy="351.18" r="4" fill="#f44b55"/>
<circle cx="603.45" cy="339.88" r="4" fill="#f44b55"/>
<circle cx="614.84" cy="345.52" r="4" fill="#f44b55"/>
<circle cx="626.24" cy="339.88" r="4" fill="#f44b55"/>
<circle cx="637.64" cy="345.52" r="4" fill="#f44b55"/>
<circle cx="649.03" cy="348.35" r="4" fill="#f44b55"/>
<circle cx="660.43" cy="351.18" r="4" fill="#f44b55"/>
<circle cx="671.83" cy="351.18" r="4" fill="#f44b55"/>
<circle cx="683.22" cy="351.18" r="4" fill="#f44b55"/>
<circle cx="694.62" cy="345.52" r="4" fill="#f44b55"/>
<circle cx="706.02" cy="351.18" r="4" fill="#f44b55"/>
<circle cx="717.41" cy="303.15" r="4" fill="#f44b55"/>
<circle cx="728.81" cy="274.9" r="4" fill="#f44b55"/>
<circle cx="740.21" cy="317.27" r="4" fill="#f44b55"/>
<circle cx="751.6" cy="176.03" r="4" fill="#f44b55"/>
<circle cx="763" cy="280.55" r="4" fill="#f44b55"/>
</svg>
</body></html>
